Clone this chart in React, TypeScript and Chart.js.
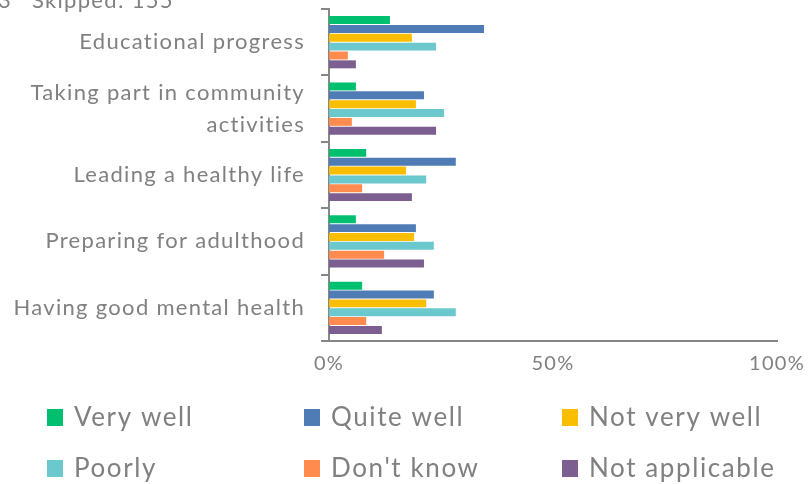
import React, { useEffect, useRef } from "react";
import { Chart, registerables } from "chart.js";

Chart.register(...registerables);

const categories: string[][] = [
  ["Educational progress"],
  ["Taking part in community", "activities"],
  ["Leading a healthy life"],
  ["Preparing for adulthood"],
  ["Having good mental health"],
];
const seriesNames = ["Very well", "Quite well", "Not very well", "Poorly", "Don't know", "Not applicable"];
const veryWell = [13.6, 6.0, 8.3, 6.0, 7.4];
const quiteWell = [34.6, 21.2, 28.3, 19.4, 23.4];
const notVeryWell = [18.5, 19.4, 17.2, 19.0, 21.7];
const poorly = [23.9, 25.7, 21.7, 23.4, 28.3];
const dontKnow = [4.2, 5.1, 7.4, 12.3, 8.3];
const notApplicable = [6.0, 23.9, 18.5, 21.2, 11.8];
const seriesColors = ["#00BF6F", "#507CB6", "#F9BE00", "#6BC8CD", "#FF8B4F", "#7D5E90"];
const xTickValues = [0, 50, 100];
const headerLeft = "Answered: 1,003";
const headerRight = "Skipped: 155";

const FONT = "Lato, 'Open Sans', sans-serif";
const GREY = "#808080";
const SPACING = "1.3px";

const spacingPlugin = {
  id: "spacing",
  beforeUpdate(chart: any) {
    chart.ctx.letterSpacing = SPACING;
  },
  beforeLayout(chart: any) {
    chart.ctx.letterSpacing = SPACING;
  },
  beforeDraw(chart: any) {
    chart.ctx.letterSpacing = SPACING;
  },
};

const legendPlugin = {
  id: "gridLegend",
  afterDraw(chart: any) {
    const ctx = chart.ctx;
    const cols = [47, 304, 562];
    const rows = [417, 468];
    ctx.save();
    ctx.letterSpacing = "1.6px";
    ctx.font = `26px ${FONT}`;
    ctx.textBaseline = "middle";
    ctx.textAlign = "left";
    chart.data.datasets.forEach((ds: any, i: number) => {
      const x = cols[i % 3];
      const y = rows[Math.floor(i / 3)];
      ctx.fillStyle = ds.backgroundColor;
      ctx.fillRect(x, y - 8, 16, 17);
      ctx.fillStyle = GREY;
      ctx.fillText(ds.label, x + 27, y + 1);
    });
    // header (partially cut off at top)
    ctx.letterSpacing = SPACING;
    ctx.font = `22px ${FONT}`;
    ctx.textBaseline = "alphabetic";
    ctx.fillStyle = GREY;
    ctx.textAlign = "right";
    ctx.fillText(headerLeft, 12, 8);
    ctx.textAlign = "left";
    ctx.fillText(headerRight, 32, 8);
    ctx.restore();
  },
};

export default function App() {
  const ref = useRef<HTMLCanvasElement | null>(null);
  useEffect(() => {
    if (!ref.current) return;
    const values = [veryWell, quiteWell, notVeryWell, poorly, dontKnow, notApplicable];
    const chart = new Chart(ref.current, {
      type: "bar",
      data: {
        labels: categories,
        datasets: seriesNames.map((name, i) => ({
          label: name,
          data: values[i],
          backgroundColor: seriesColors[i],
          borderWidth: 0,
          categoryPercentage: 0.8,
          barPercentage: 0.9,
        })),
      },
      options: {
        indexAxis: "y",
        animation: false,
        responsive: false,
        devicePixelRatio: 1,
        layout: { padding: { top: 9, right: 33, bottom: 103, left: 0 } },
        plugins: {
          legend: { display: false },
          tooltip: { enabled: false },
          title: { display: false },
        },
        scales: {
          x: {
            min: 0,
            max: 100,
            afterBuildTicks: (scale: any) => {
              scale.ticks = xTickValues.map((v) => ({ value: v }));
            },
            afterFit: (scale: any) => {
              scale.height = 40;
              scale.paddingLeft = 0;
              scale.paddingRight = 0;
            },
            ticks: {
              callback: (v: any) => v + "%",
              color: GREY,
              font: { family: FONT, size: 20 },
              padding: 11,
              maxRotation: 0,
              autoSkip: false,
            },
            grid: { display: false, drawTicks: false },
            border: { display: true, color: "#868686", width: 2 },
          },
          y: {
            afterFit: (scale: any) => {
              scale.width = 329;
              scale.paddingTop = 0;
              scale.paddingBottom = 0;
            },
            ticks: {
              color: GREY,
              font: { family: FONT, size: 22, lineHeight: 1.45 },
              padding: 16,
              autoSkip: false,
            },
            grid: { display: true, drawOnChartArea: false, drawTicks: true, tickLength: 8, color: "#868686", lineWidth: 2 },
            border: { display: true, color: "#868686", width: 2 },
          },
        },
      },
      plugins: [spacingPlugin, legendPlugin],
    });
    return () => chart.destroy();
  }, []);
  return (
    <div style={{ position: "fixed", left: 0, top: 0, width: 810, height: 484, background: "#fff" }}>
      <canvas ref={ref} width={810} height={484} style={{ width: 810, height: 484, display: "block" }} />
    </div>
  );
}
